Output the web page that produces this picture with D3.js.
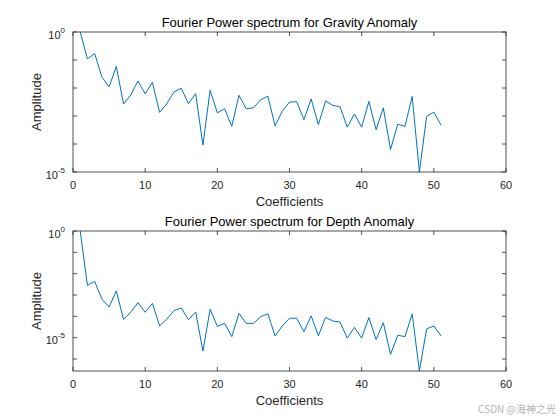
<!DOCTYPE html>
<html>
<head>
<meta charset="utf-8">
<script src="https://cdn.jsdelivr.net/npm/d3@7"></script>
<style>
  body { margin: 0; background: #fff; }
  svg { font-family: "Liberation Sans", Arial, sans-serif; }
</style>
</head>
<body>
<svg id="chart" width="560" height="420"></svg>
<script>
// coefficients 1..51
const coeffs = d3.range(1, 52);

// log10 of amplitude
const gravityLog = [
  0, -0.96, -0.77, -1.61, -1.96, -1.23, -2.57, -2.25, -1.75, -2.21,
  -1.80, -2.87, -2.56, -2.14, -2.01, -2.56, -2.20, -4.04, -2.08, -2.89,
  -2.74, -3.37, -2.26, -2.74, -2.71, -2.42, -2.29, -3.35, -2.83, -2.50,
  -2.49, -3.13, -2.39, -3.31, -2.46, -2.62, -2.67, -3.40, -2.93, -3.40,
  -2.48, -3.49, -2.71, -4.20, -3.29, -3.37, -2.30, -5.00, -3.01, -2.86,
  -3.33
];
const depthLog = [
  0, -2.55, -2.36, -3.19, -3.56, -2.81, -4.14, -3.81, -3.36, -3.81,
  -3.39, -4.45, -4.13, -3.73, -3.61, -4.16, -3.80, -5.63, -3.67, -4.47,
  -4.33, -4.95, -3.86, -4.33, -4.33, -4.02, -3.88, -4.92, -4.45, -4.09,
  -4.09, -4.72, -3.98, -4.91, -4.05, -4.22, -4.27, -5.02, -4.52, -5.02,
  -4.06, -5.09, -4.30, -5.78, -4.89, -4.95, -3.89, -6.56, -4.59, -4.45,
  -4.92
];

const xTicks = [0, 10, 20, 30, 40, 50, 60];

const panels = [
  { title: "Fourier Power spectrum for Gravity Anomaly", values: gravityLog,
    top: 32, bottom: 172, yMin: Math.pow(10, -5), yTicks: [0, -1, -2, -3, -4, -5], yLabels: [0, -5] },
  { title: "Fourier Power spectrum for Depth Anomaly", values: depthLog,
    top: 231, bottom: 371, yMin: Math.pow(10, -6.5625), yTicks: [0, -1, -2, -3, -4, -5, -6], yLabels: [0, -5] }
];

const svg = d3.select("#chart");
const left = 73, right = 506;
const axisColor = "#262626";
const tickLen = 4;

panels.forEach((p, i) => {
  const x = d3.scaleLinear().domain([0, 60]).range([left, right]);
  const y = d3.scaleLog().domain([p.yMin, 1]).range([p.bottom, p.top]);
  const g = svg.append("g");

  const clipId = "clip" + i;
  g.append("clipPath").attr("id", clipId)
    .append("rect")
    .attr("x", left).attr("y", p.top)
    .attr("width", right - left).attr("height", p.bottom - p.top);

  // line
  const line = d3.line()
    .x((d, j) => x(coeffs[j]))
    .y(d => y(Math.pow(10, d)));

  g.append("path")
    .datum(p.values)
    .attr("clip-path", "url(#" + clipId + ")")
    .attr("fill", "none")
    .attr("stroke", "#0072BD")
    .attr("stroke-width", 1)
    .attr("d", line);

  // x ticks, bottom and top, pointing inwards
  g.selectAll(".xt").data(xTicks).enter().append("path")
    .attr("fill", "none").attr("stroke", axisColor).attr("stroke-width", 0.8)
    .attr("d", d => "M" + x(d) + "," + p.bottom + "v" + (-tickLen) +
                    "M" + x(d) + "," + p.top + "v" + tickLen);

  g.selectAll(".xl").data(xTicks).enter().append("text")
    .attr("x", d => x(d))
    .attr("y", p.bottom + 17)
    .attr("text-anchor", "middle")
    .attr("fill", axisColor)
    .attr("font-size", "11px")
    .text(d => d);

  // y ticks, left and right
  g.selectAll(".yt").data(p.yTicks).enter().append("path")
    .attr("fill", "none").attr("stroke", axisColor).attr("stroke-width", 0.8)
    .attr("d", d => "M" + left + "," + y(Math.pow(10, d)) + "h" + tickLen +
                    "M" + right + "," + y(Math.pow(10, d)) + "h" + (-tickLen));

  const yl = g.selectAll(".yl").data(p.yLabels).enter().append("text")
    .attr("x", left - 8)
    .attr("y", d => y(Math.pow(10, d)) + 6.5)
    .attr("text-anchor", "end")
    .attr("fill", axisColor)
    .attr("font-size", "11px");
  yl.append("tspan").text("10");
  yl.append("tspan").attr("dy", -6).attr("font-size", "8px").text(d => d);

  // box
  g.append("rect")
    .attr("x", left).attr("y", p.top)
    .attr("width", right - left).attr("height", p.bottom - p.top)
    .attr("fill", "none").attr("stroke", axisColor).attr("stroke-width", 0.8);

  // title and axis labels
  g.append("text")
    .attr("x", (left + right) / 2).attr("y", p.top - 5)
    .attr("text-anchor", "middle").attr("fill", "#000")
    .attr("font-size", "13px")
    .text(p.title);

  g.append("text")
    .attr("x", (left + right) / 2).attr("y", p.bottom + 34)
    .attr("text-anchor", "middle").attr("fill", axisColor)
    .attr("font-size", "13px")
    .text("Coefficients");

  g.append("text")
    .attr("transform", "translate(41," + ((p.top + p.bottom) / 2) + ") rotate(-90)")
    .attr("text-anchor", "middle").attr("fill", axisColor)
    .attr("font-size", "13px")
    .text("Amplitude");
});

// watermark
svg.append("text")
  .attr("x", 556).attr("y", 413)
  .attr("text-anchor", "end")
  .attr("fill", "#b4b4b4")
  .attr("font-size", "10px")
  .attr("font-family", "'Noto Sans CJK SC', 'Liberation Sans', sans-serif")
  .text("CSDN @海神之光");
</script>
</body>
</html>
